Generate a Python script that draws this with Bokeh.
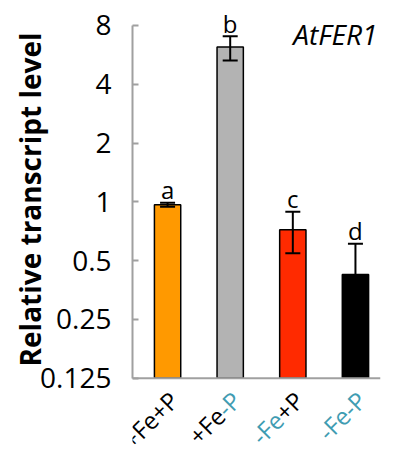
import math
from bokeh.plotting import figure
from bokeh.models import (ColumnDataSource, Whisker, TeeHead, Label, Range1d,
                          FixedTicker, NumeralTickFormatter, Span, Title,
                          LinearScale)
from bokeh.core.properties import value
from bokeh.embed import file_html
from bokeh.resources import INLINE

# ---- data ----
groups = ["+Fe+P", "+Fe-P", "-Fe+P", "-Fe-P"]
means = [0.965, 6.2, 0.72, 0.425]
err_upper = [0.99, 7.05, 0.89, 0.61]
err_lower = [0.945, 5.3, 0.545, 0.30]
letters = ["a", "b", "c", "d"]
bar_colors = ["#ff9900", "#b3b3b3", "#ff2a00", "#000000"]
y_ticks = [0.125, 0.25, 0.5, 1, 2, 4, 8]
gene = "AtFER1"
y_title = "Relative transcript level"

TEAL = "#3f9cb2"
BLACK = "#000000"
# each category label = coloured prefix + coloured suffix
label_prefix = ["+Fe+P", "+Fe", "-Fe", "-Fe-P"]
label_suffix = ["", "-P", "+P", ""]
prefix_colors = [BLACK, BLACK, TEAL, TEAL]
suffix_colors = [BLACK, TEAL, BLACK, TEAL]

FONT = "Open Sans"
AXIS_GREY = "#a0a0a0"
XLAB_SIZE = 24
# approximate Open Sans advance widths (em) used to chain coloured pieces
CHAR_EM = {"+": 0.572, "-": 0.322, "F": 0.516, "e": 0.561, "P": 0.615}
END_DX, END_DY = 18, 29          # label end relative to bar centre / axis (px)

# ---- layout ----
W, H = 394, 464
BORDER_L, BORDER_R, BORDER_T, BORDER_B = 132, 14, 0, 4
X_START, X_END = -0.56, 3.4
y_min, y_max = y_ticks[0], y_ticks[-1]
# frame extends beyond the axis so letters and rotated labels are not clipped
TOP_OCTAVES = 0.425
BOTTOM_OCTAVES = 1.4

frame_w = W - BORDER_L - BORDER_R
frame_h = H - BORDER_T - BORDER_B
px_per_x = frame_w / (X_END - X_START)
px_per_oct = frame_h / (math.log2(y_max / y_min) + TOP_OCTAVES + BOTTOM_OCTAVES)

xs = list(range(len(groups)))
src = ColumnDataSource(dict(x=xs, top=means, upper=err_upper, lower=err_lower,
                            color=bar_colors, letter=letters))

p = figure(width=W, height=H, output_backend="svg", toolbar_location=None,
           y_axis_type="log", x_range=Range1d(X_START, X_END),
           y_range=Range1d(y_min / 2 ** BOTTOM_OCTAVES, y_max * 2 ** TOP_OCTAVES),
           min_border_left=BORDER_L, min_border_right=BORDER_R,
           min_border_top=BORDER_T, min_border_bottom=BORDER_B)
p.outline_line_color = None
p.xgrid.visible = False
p.ygrid.visible = False
p.xaxis.visible = False
p.background_fill_color = "white"
p.border_fill_color = "white"

# a linear pixel-like range for the rotated labels
use_lab = True
try:
    p.extra_y_scales = {"lab": LinearScale()}
except Exception:
    use_lab = False
if use_lab:
    p.extra_y_ranges = {"lab": Range1d(0, frame_h)}

p.vbar(x="x", top="top", bottom=y_min, width=0.42, fill_color="color",
       line_color="black", line_width=1.5, source=src)

wh = Whisker(base="x", upper="upper", lower="lower", source=src,
             line_color="black", line_width=2,
             upper_head=TeeHead(size=15, line_color="black", line_width=2),
             lower_head=TeeHead(size=15, line_color="black", line_width=2),
             level="overlay")
p.add_layout(wh)

# x axis line
p.add_layout(Span(location=y_min, dimension="width", line_color=AXIS_GREY,
                  line_width=2))

# y axis
ya = p.yaxis[0]
ya.bounds = (y_min, y_max)
ya.ticker = FixedTicker(ticks=y_ticks)
ya.formatter = NumeralTickFormatter(format="0.[000]")
ya.axis_line_color = AXIS_GREY
ya.axis_line_width = 2
ya.major_tick_line_color = AXIS_GREY
ya.major_tick_line_width = 2
ya.major_tick_in = 6
ya.major_tick_out = 0
ya.minor_tick_line_color = None
ya.major_label_text_font = FONT
ya.major_label_text_font_size = "28px"
ya.major_label_text_color = "black"
ya.major_label_standoff = 21

# y axis title as a left-side Title (positioned along the axis)
p.add_layout(Title(text=y_title, align="right", offset=32, standoff=-22,
                   text_font=FONT, text_font_style="bold",
                   text_font_size="28px", text_color="black"), "left")

# significance letters
for x, up, let in zip(xs, err_upper, letters):
    p.add_layout(Label(x=x, y=up, y_offset=13, text=let, text_align="center",
                       text_baseline="middle", text_font=FONT,
                       text_font_size="24px", text_color="black"))


# rotated (45 deg) two-colour category labels, pieces chained along the text
def text_len(s):
    return sum(CHAR_EM[ch] for ch in s) * XLAB_SIZE


c45 = math.cos(math.pi / 4)
axis_h = BOTTOM_OCTAVES * px_per_oct    # axis height above frame bottom (px)
px, py, ptext, pcolor = [], [], [], []
for x, pre, suf, pc, sc in zip(xs, label_prefix, label_suffix, prefix_colors,
                               suffix_colors):
    total = text_len(pre + suf)
    cum = 0.0
    for piece, col in ((pre, pc), (suf, sc)):
        if not piece:
            continue
        remaining = total - cum
        dx = END_DX - remaining * c45          # screen px, right
        dy = END_DY + remaining * c45          # screen px, down
        px.append(x + dx / px_per_x)
        if use_lab:
            py.append(axis_h - dy)
        else:
            py.append(y_min * 2 ** (-dy / px_per_oct))
        ptext.append(piece)
        pcolor.append(col)
        cum += text_len(piece)

lab_src = ColumnDataSource(dict(x=px, y=py, text=ptext, color=pcolor))
p.text(x="x", y="y", text="text", source=lab_src, angle=math.pi / 4,
       text_font=value(FONT), text_font_size=f"{XLAB_SIZE}px",
       text_color="color", y_range_name="lab" if use_lab else "default")

# gene name
p.add_layout(Label(x=3, y=y_max, x_offset=22, y_offset=-9, text=gene,
                   text_align="right", text_baseline="middle",
                   text_font=FONT, text_font_style="italic",
                   text_font_size="28px", text_color="black"))

open("out.html", "w").write(file_html(p, INLINE))
